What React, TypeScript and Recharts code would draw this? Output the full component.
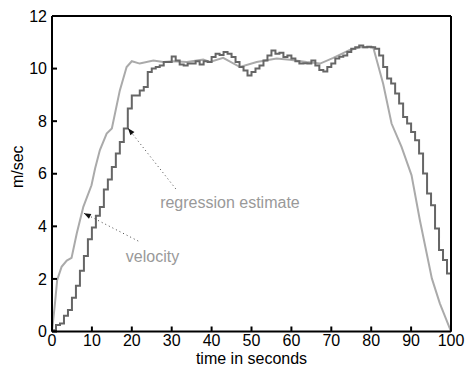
import React from 'react';
import { LineChart, Line, XAxis, YAxis, ReferenceLine, ReferenceDot } from 'recharts';

// regression estimate, one value per second (drawn as steps)
const stepTimes = Array.from({ length: 101 }, (_, i) => i);
const stepValues = [
  0.05, 0.25, 0.3, 0.6, 0.82, 1.28, 1.74, 2.31, 2.87, 3.51,
  3.96, 4.4, 4.74, 5.4, 5.78, 6.26, 6.77, 7.21, 7.72, 8.48,
  8.98, 8.98, 9.17, 9.3, 9.87, 10.0, 10.06, 10.12, 10.25, 10.25,
  10.46, 10.31, 10.16, 10.12, 10.19, 10.19, 10.28, 10.16, 10.28, 10.25,
  10.44, 10.56, 10.52, 10.63, 10.56, 10.44, 10.25, 10.06, 9.93, 9.74,
  9.87, 10.0, 10.12, 10.31, 10.5, 10.69, 10.56, 10.6, 10.44, 10.5,
  10.38, 10.28, 10.19, 10.2, 10.19, 10.31, 10.12, 9.95, 9.89, 10.06,
  10.19, 10.38, 10.45, 10.5, 10.63, 10.75, 10.81, 10.88, 10.81, 10.83,
  10.81, 10.75, 10.5, 10.06, 9.62, 9.43, 9.05, 8.67, 8.16, 7.91,
  7.59, 7.27, 6.77, 6.01, 5.25, 4.8, 3.92, 3.1, 2.72, 2.21,
  2.21,
];

// measured velocity
const velTimes = [
  0, 0.75, 1.3, 2.4, 3.7, 4.9, 6.2, 7.85, 9.9, 10.8, 12, 13.7, 15, 17, 18.7, 20,
  22, 25.4, 27.9, 30.4, 33.8, 37.9, 39.6, 42.9, 47.1, 51.3, 56.3, 59.6, 63.8,
  67.2, 70.5, 74.5, 77.2, 80.5, 83, 85.1, 87.6, 90.1, 92.2, 95.2, 97.2, 100,
];
const velValues = [
  0, 1.08, 1.96, 2.46, 2.7, 2.8, 3.73, 4.74, 5.56, 6.2, 6.9, 7.53, 7.72, 9.17, 10.06, 10.28,
  10.19, 10.31, 10.25, 10.28, 10.25, 10.34, 10.25, 10.41, 10.06, 10.25, 10.38, 10.34, 10.25,
  10.19, 10.41, 10.7, 10.81, 10.81, 9.42, 7.91, 7.02, 5.95, 4.23, 2.02, 1.07, 0,
];

const xTicks = [0, 10, 20, 30, 40, 50, 60, 70, 80, 90, 100];
const yTicks = [0, 2, 4, 6, 8, 10, 12];

const stepData = stepTimes.map((t, i) => ({ t, v: stepValues[i] }));
const velData = velTimes.map((t, i) => ({ t, v: velValues[i] }));

const FONT = '"Liberation Sans", Arial, Helvetica, sans-serif';
const FS = 16;

const arrowHead = (dx: number, dy: number) => (props: any) => {
  const { cx, cy } = props;
  const len = Math.hypot(dx, dy);
  const ux = dx / len;
  const uy = dy / len;
  const bx = cx + ux * 7;
  const by = cy + uy * 7;
  const pts = `${cx},${cy} ${bx - uy * 2.6},${by + ux * 2.6} ${bx + uy * 2.6},${by - ux * 2.6}`;
  return <polygon points={pts} fill="#111" />;
};

const textShape = (txt: string) => (props: any) => (
  <text x={props.cx} y={props.cy} fill="#999" fontSize={FS} fontFamily={FONT}>
    {txt}
  </text>
);

const yLabel = (props: any) => {
  const vb = props.viewBox;
  const cx = vb.x + 9;
  const cy = vb.y + vb.height / 2 - 7;
  return (
    <text
      x={cx}
      y={cy}
      transform={`rotate(-90 ${cx} ${cy})`}
      textAnchor="middle"
      dominantBaseline="central"
      fill="#000"
      fontSize={FS}
      fontFamily={FONT}
    >
      m/sec
    </text>
  );
};

export default function App() {
  return (
    <div style={{ position: 'absolute', left: 0, top: 0, fontFamily: FONT }}>
      <LineChart width={466} height={374} margin={{ top: 15, right: 14, left: 8, bottom: 6.5 }}>
        <XAxis
          dataKey="t"
          type="number"
          domain={[0, 100]}
          ticks={xTicks}
          allowDataOverflow
          stroke="#000"
          strokeWidth={2}
          tickSize={-5}
          tickMargin={8}
          tick={{ fill: '#000', fontSize: FS, fontFamily: FONT }}
          height={36}
          label={{ value: 'time in seconds', position: 'insideBottom', offset: 4, fill: '#000', fontSize: FS, fontFamily: FONT }}
        />
        <XAxis
          xAxisId="top"
          orientation="top"
          type="number"
          domain={[0, 100]}
          ticks={xTicks}
          stroke="#000"
          strokeWidth={2}
          tickSize={-5}
          tick={false}
          height={1}
        />
        <YAxis
          type="number"
          domain={[0, 12]}
          ticks={yTicks}
          stroke="#000"
          strokeWidth={2}
          tickSize={-5}
          tickMargin={10}
          tick={{ fill: '#000', fontSize: FS, fontFamily: FONT }}
          width={44}
          label={{ content: yLabel }}
        />
        <YAxis
          yAxisId="right"
          orientation="right"
          type="number"
          domain={[0, 12]}
          ticks={yTicks}
          stroke="#000"
          strokeWidth={2}
          tickSize={-5}
          tick={false}
          width={1}
        />
        <Line
          data={velData}
          dataKey="v"
          type="linear"
          stroke="#aaaaaa"
          strokeWidth={2}
          dot={false}
          isAnimationActive={false}
        />
        <Line
          data={stepData}
          dataKey="v"
          type="stepAfter"
          stroke="#666666"
          strokeWidth={2}
          dot={false}
          isAnimationActive={false}
        />
        <ReferenceLine
          segment={[{ x: 19.05, y: 7.73 }, { x: 31.25, y: 5.38 }]}
          stroke="#444"
          strokeDasharray="1 3"
        />
        <ReferenceLine
          segment={[{ x: 8.0, y: 4.5 }, { x: 22, y: 3.41 }]}
          stroke="#444"
          strokeDasharray="1 3"
        />
        <ReferenceDot x={19.05} y={7.73} shape={arrowHead(49.4, 61.7)} />
        <ReferenceDot x={8.0} y={4.5} shape={arrowHead(56, 29)} />
        <ReferenceDot x={27.1} y={4.69} shape={textShape('regression estimate')} />
        <ReferenceDot x={18.5} y={2.64} shape={textShape('velocity')} />
      </LineChart>
    </div>
  );
}
